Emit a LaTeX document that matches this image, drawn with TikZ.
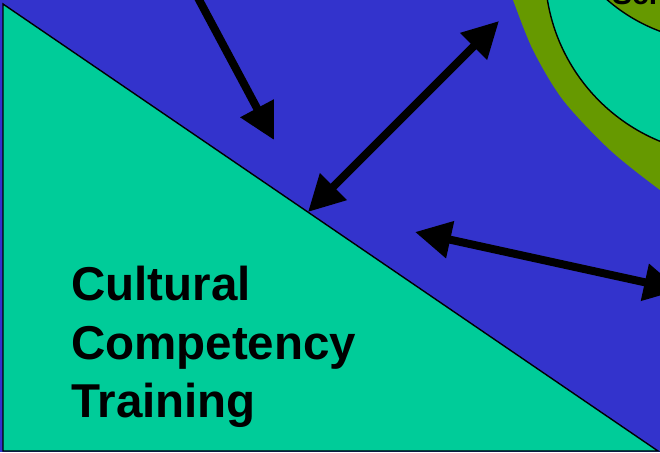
\documentclass[tikz,border=0pt]{standalone}
\usepackage{fontspec}
\setmainfont{Liberation Sans}
\usetikzlibrary{arrows.meta}
\definecolor{bgblue}{HTML}{3333CC}
\definecolor{tealfill}{HTML}{00CC99}
\definecolor{olivefill}{HTML}{669900}
\begin{document}
\begin{tikzpicture}[x=1pt,y=-1pt,
  arr/.style={line width=8pt, -{Triangle[length=36pt,width=36pt]}},
  darr/.style={line width=8pt, {Triangle[length=36pt,width=36pt]}-{Triangle[length=36pt,width=36pt]}},
  shapeborder/.style={draw=black, line width=1.4pt},
  lbl/.style={anchor=base west, inner sep=0pt, font=\fontsize{47.5}{56}\selectfont\bfseries}]
\useasboundingbox (0,0) rectangle (660,452);
\clip (0,0) rectangle (660,452);
\fill[bgblue] (0,0) rectangle (660,452);
% outer olive ring
\fill[olivefill] plot[smooth] coordinates {(506,-20) (513,0) (533,50) (563,100) (610,150) (660,190) (690,210)} -- (720,-20) -- cycle;
% teal ellipse
\filldraw[fill=tealfill, shapeborder] (730,-30) circle[radius=185];
% innermost olive ellipse
\filldraw[fill=olivefill, shapeborder] (720,-130) circle[radius=172];
\node[font=\fontsize{30}{30}\selectfont\bfseries, anchor=base west, inner sep=0pt] (sch) at (612,5) {Sch};
% triangle
\filldraw[fill=tealfill, shapeborder] (3,4) -- (3,451) -- (658,451) -- cycle;
\node[lbl] (t1) at (71,300) {Cultural};
\node[lbl] (t2) at (71,359) {Competency};
\node[lbl] (t3) at (71,417) {Training};
% arrows
\coordinate (a1s) at (197,-4);
\coordinate (a1e) at (274,140);
\draw[arr] (a1s) -- (a1e);
\coordinate (a2s) at (308,212);
\coordinate (a2e) at (499,21);
\draw[darr] (a2s) -- (a2e);
\coordinate (a3s) at (415,232);
\coordinate (a3e) at (680,290);
\draw[darr] (a3s) -- (a3e);
\end{tikzpicture}
\end{document}
